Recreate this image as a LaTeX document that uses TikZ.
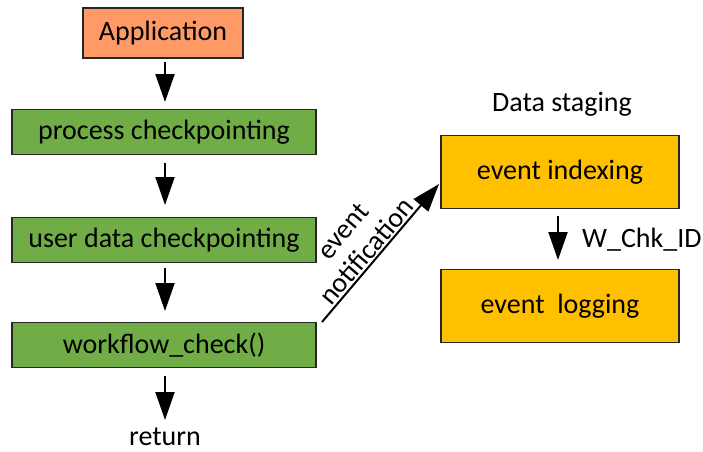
\documentclass[tikz,border=0pt]{standalone}
\usepackage{fontspec}
\setmainfont{Carlito}
\usetikzlibrary{arrows.meta}
\definecolor{appfill}{HTML}{FF9966}
\definecolor{stepfill}{HTML}{70AD47}
\definecolor{stagefill}{HTML}{FFC000}
\tikzset{
  txt/.style={font=\fontsize{28}{33}\selectfont},
  box/.style={txt, draw=black!85, line width=1.6pt, minimum height=45pt, inner sep=0pt},
  appbox/.style={box, fill=appfill, minimum width=160pt, minimum height=50pt},
  stepbox/.style={box, fill=stepfill, minimum width=304pt},
  stagebox/.style={box, fill=stagefill, minimum width=238pt, minimum height=73pt},
  flow/.style={line width=2pt, -{Triangle[length=28pt,width=19pt]}},
  plain/.style={txt, inner sep=0pt},
}
\begin{document}
\begin{tikzpicture}[x=1pt,y=-1pt]
\useasboundingbox (0,0) rectangle (703,451);
% left column: application flow
\node[appbox]   (app)  at (163,33)  {Application};
\node[stepbox]  (proc) at (164,132) {process checkpointing};
\node[stepbox]  (user) at (164,240) {user data checkpointing};
\node[stepbox]  (wf)   at (164,345) {workflow\_check()};
\node[plain]    (ret)  at (165,437) {return};
% right column: data staging
\node[plain]    (ds)   at (562,104) {Data staging};
\node[stagebox] (idx)  at (560,172) {event indexing};
\node[stagebox] (log)  at (560,306) {event\ \ logging};
% vertical arrows
\coordinate (a1s) at (165,62);  \coordinate (a1e) at (165,102);
\coordinate (a2s) at (165,163); \coordinate (a2e) at (165,205);
\coordinate (a3s) at (165,268); \coordinate (a3e) at (165,311);
\coordinate (a4s) at (165,376); \coordinate (a4e) at (165,420);
\draw[flow] (a1s) -- (a1e);
\draw[flow] (a2s) -- (a2e);
\draw[flow] (a3s) -- (a3e);
\draw[flow] (a4s) -- (a4e);
\coordinate (a5s) at (558,216); \coordinate (a5e) at (558,260);
\draw[flow] (a5s) -- (a5e);
\node[plain, anchor=west] (wid) at (582,240) {W\_Chk\_ID};
% event notification arrow
\coordinate (ns) at (322,322);
\coordinate (ne) at (439,184);
\draw[flow] (ns) -- (ne);
\node[plain, rotate=49.7] (ntf) at (366,251) {notification};
\node[plain, rotate=49.7] (evt) at (343,231) {event};
\end{tikzpicture}
\end{document}
